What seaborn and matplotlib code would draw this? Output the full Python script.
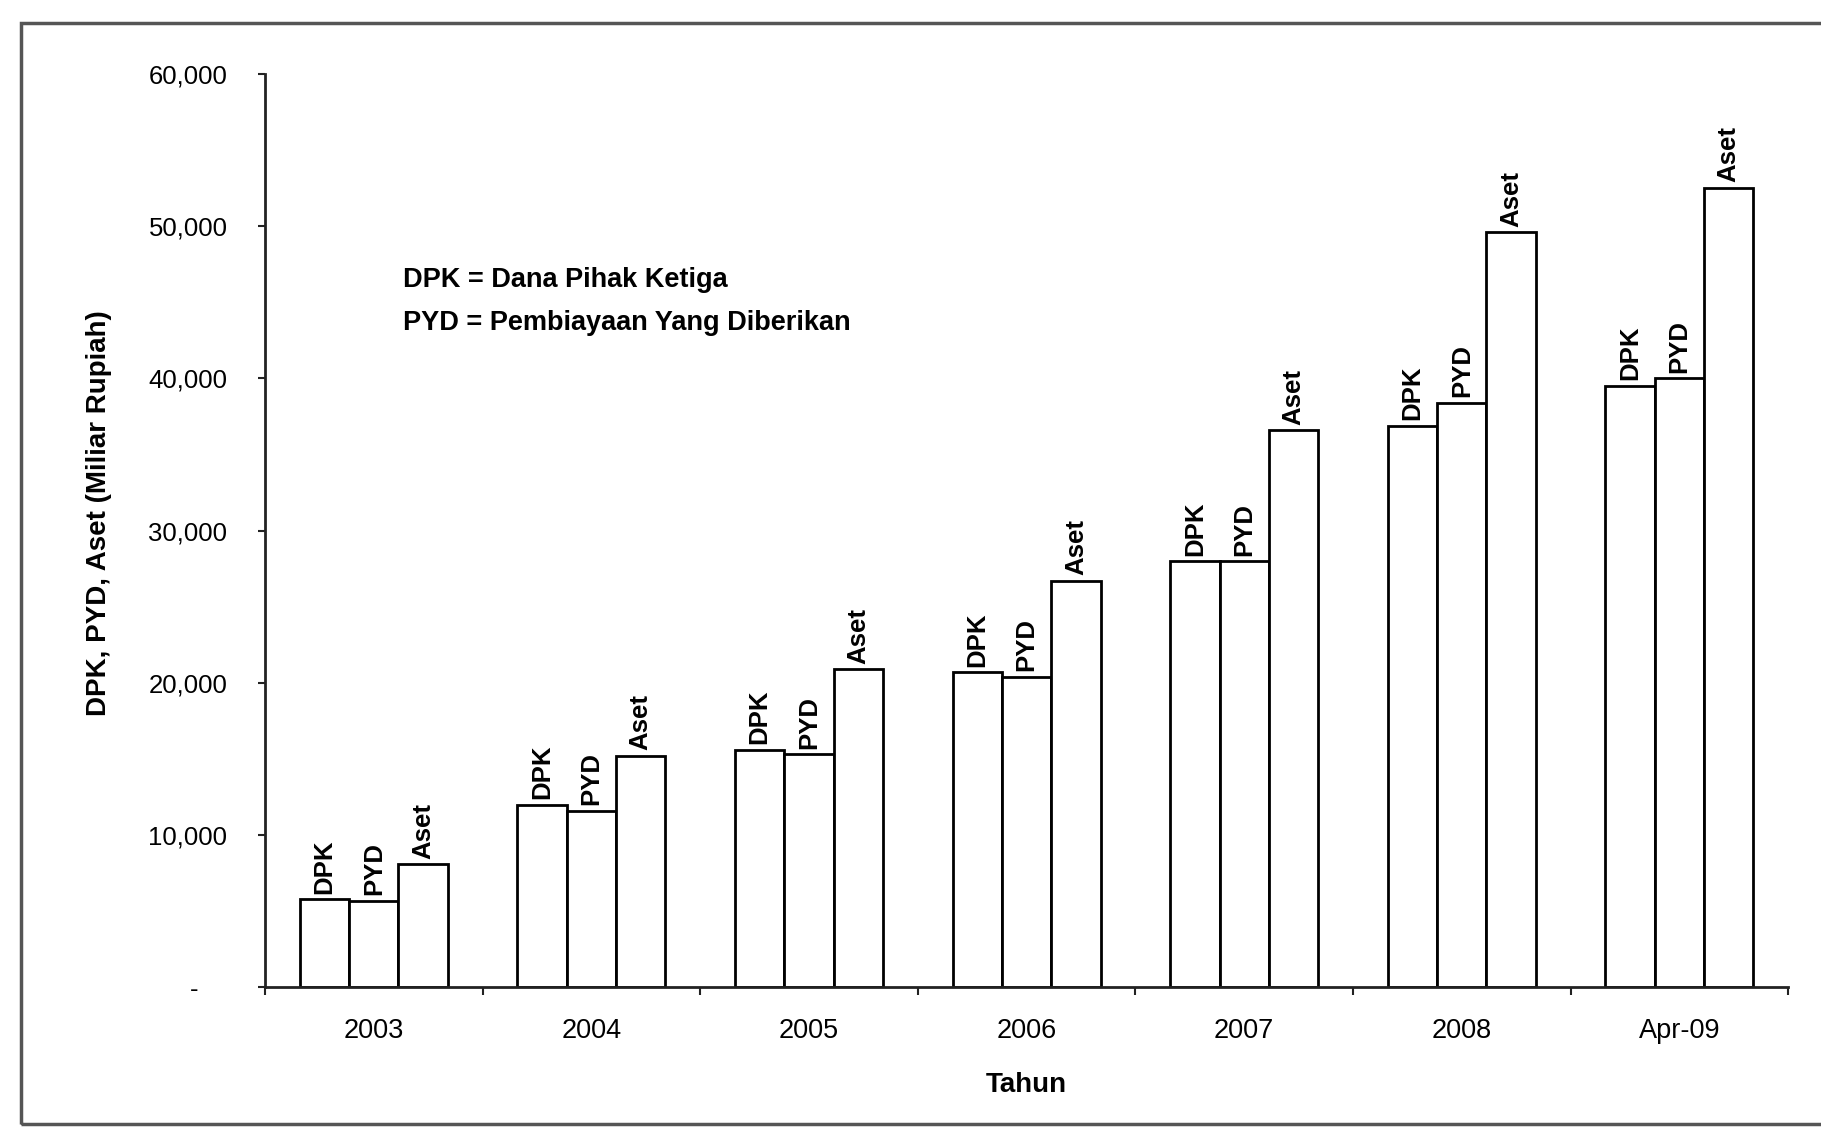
import numpy as np
import pandas as pd
import matplotlib
matplotlib.use("Agg")
import matplotlib.pyplot as plt
from matplotlib.ticker import FuncFormatter, FixedLocator
from matplotlib.patches import Rectangle
import seaborn as sns

# Data (Miliar Rupiah)
tahun = ["2003", "2004", "2005", "2006", "2007", "2008", "Apr-09"]
dpk = [5800, 12000, 15600, 20700, 28000, 36900, 39500]
pyd = [5700, 11600, 15300, 20400, 28000, 38400, 40000]
aset = [8100, 15200, 20900, 26700, 36600, 49600, 52500]
jenis = ["DPK", "PYD", "Aset"]

df = pd.DataFrame({
    "Tahun": tahun * 3,
    "Jenis": [j for j in jenis for _ in tahun],
    "Nilai": dpk + pyd + aset,
})

sns.set_style("white")
plt.rcParams["font.family"] = ["Liberation Sans", "DejaVu Sans"]
plt.rcParams["text.color"] = "black"

fig = plt.figure(figsize=(18.21, 11.35), dpi=100)
ax = fig.add_axes([0.1455, 0.130, 0.8365, 0.805])

sns.barplot(data=df, x="Tahun", y="Nilai", hue="Jenis", hue_order=jenis,
            palette=["white"] * 3, edgecolor="black", linewidth=2.0,
            width=0.68, saturation=1, legend=False, ax=ax)

# Rotated series name above each bar
for cont, name in zip(ax.containers, jenis):
    for bar in cont:
        ax.annotate(name, xy=(bar.get_x() + bar.get_width() / 2, bar.get_height()),
                    xytext=(0, 4), textcoords="offset points", rotation=90,
                    ha="center", va="bottom", fontsize=18.5, fontweight="bold",
                    color="black")

ax.set_ylim(0, 60000)
ax.set_xlim(-0.5, len(tahun) - 0.5)
ax.yaxis.set_major_locator(FixedLocator(np.arange(0, 60001, 10000)))
ax.yaxis.set_major_formatter(FuncFormatter(lambda v, p: "-    " if v == 0 else f"{v:,.0f}"))
ax.tick_params(axis="y", which="major", left=True, length=5, width=1.5, pad=22,
               labelsize=18.5, labelcolor="black", color="#222222")
ax.tick_params(axis="x", which="major", bottom=False, length=0, pad=22,
               labelsize=19.5, labelcolor="black")
ax.xaxis.set_minor_locator(FixedLocator(np.arange(-0.5, len(tahun), 1.0)))
ax.tick_params(axis="x", which="minor", bottom=True, length=6, width=1.5,
               direction="out", color="#222222")

for s in ["top", "right"]:
    ax.spines[s].set_visible(False)
for s in ["left", "bottom"]:
    ax.spines[s].set_linewidth(2)
    ax.spines[s].set_color("#222222")

ax.set_xlabel("Tahun", fontsize=20, fontweight="bold", labelpad=20, color="black")
ax.set_ylabel("DPK, PYD, Aset (Miliar Rupiah)", fontsize=20, fontweight="bold",
              labelpad=26, color="black")
ax.yaxis.label.set_y(0.519)

ax.text(0.0906, 0.774, "DPK = Dana Pihak Ketiga", transform=ax.transAxes,
        fontsize=19.5, fontweight="bold", va="center", ha="left", color="black")
ax.text(0.0906, 0.727, "PYD = Pembiayaan Yang Diberikan", transform=ax.transAxes,
        fontsize=19.5, fontweight="bold", va="center", ha="left", color="black")

# Outer frame around the chart
fig.patches.append(Rectangle((0.0115, 0.0097), 1.0, 0.9703, transform=fig.transFigure,
                             fill=False, edgecolor="#555555", linewidth=2.5))

fig.savefig("out.png", dpi=100, facecolor="white")
